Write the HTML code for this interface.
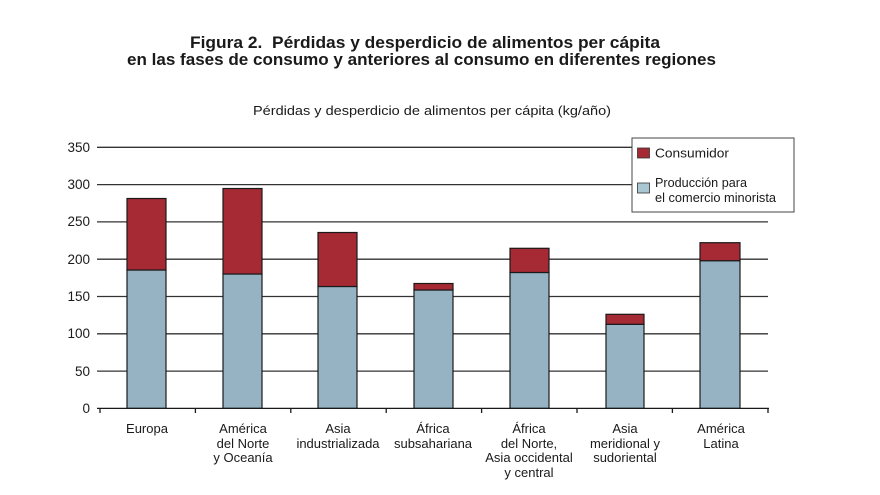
<!DOCTYPE html>
<html>
<head>
<meta charset="utf-8">
<style>
  html,body{margin:0;padding:0;background:#fff;}
  svg{display:block;}
  text{font-family:"Liberation Sans", Arial, sans-serif; fill:#1a1a1a;}
</style>
</head>
<body>
<svg width="880" height="495" viewBox="0 0 880 495" xmlns="http://www.w3.org/2000/svg">
  <rect width="880" height="495" fill="#fff"/>
  <!-- Titles -->
  <text x="425" y="48" font-size="16.5" font-weight="bold" text-anchor="middle" textLength="470" lengthAdjust="spacingAndGlyphs">Figura 2.&#160; Pérdidas y desperdicio de alimentos per cápita</text>
  <text x="421.5" y="65" font-size="16.5" font-weight="bold" text-anchor="middle" textLength="589" lengthAdjust="spacingAndGlyphs">en las fases de consumo y anteriores al consumo en diferentes regiones</text>
  <text x="432" y="115" font-size="13" text-anchor="middle" textLength="358" lengthAdjust="spacingAndGlyphs">Pérdidas y desperdicio de alimentos per cápita (kg/año)</text>

  <!-- Gridlines -->
  <g stroke="#333" stroke-width="1.3">
    <line x1="97" y1="147.3" x2="632" y2="147.3"/>
    <line x1="97" y1="184.6" x2="632" y2="184.6"/>
    <line x1="97" y1="221.9" x2="768" y2="221.9"/>
    <line x1="97" y1="259.2" x2="768" y2="259.2"/>
    <line x1="97" y1="296.5" x2="768" y2="296.5"/>
    <line x1="97" y1="333.8" x2="768" y2="333.8"/>
    <line x1="97" y1="371.1" x2="768" y2="371.1"/>
  </g>

  <!-- Y labels -->
  <g font-size="13.5" text-anchor="end">
    <text x="90" y="152">350</text>
    <text x="90" y="189">300</text>
    <text x="90" y="226">250</text>
    <text x="90" y="264">200</text>
    <text x="90" y="301">150</text>
    <text x="90" y="338">100</text>
    <text x="90" y="376">50</text>
    <text x="90" y="413">0</text>
  </g>

  <!-- Bars -->
  <g stroke="#1a1a1a" stroke-width="1.2">
    <rect x="127" y="270" width="39" height="138.4" fill="#95b3c2"/>
    <rect x="127" y="198.5" width="39" height="71.5" fill="#a52a33"/>
    <rect x="223" y="274" width="39" height="134.4" fill="#95b3c2"/>
    <rect x="223" y="188.5" width="39" height="85.5" fill="#a52a33"/>
    <rect x="318" y="286.5" width="39" height="121.9" fill="#95b3c2"/>
    <rect x="318" y="232.5" width="39" height="54" fill="#a52a33"/>
    <rect x="414" y="290" width="39" height="118.4" fill="#95b3c2"/>
    <rect x="414" y="283.5" width="39" height="6.5" fill="#a52a33"/>
    <rect x="510" y="272.5" width="39" height="135.9" fill="#95b3c2"/>
    <rect x="510" y="248.3" width="39" height="24.2" fill="#a52a33"/>
    <rect x="606" y="324.3" width="38" height="84.1" fill="#95b3c2"/>
    <rect x="606" y="314.3" width="38" height="10" fill="#a52a33"/>
    <rect x="700" y="260.7" width="40" height="147.7" fill="#95b3c2"/>
    <rect x="700" y="242.7" width="40" height="18" fill="#a52a33"/>
  </g>

  <!-- X axis -->
  <g stroke="#1a1a1a" stroke-width="1.3">
    <line x1="97" y1="408.4" x2="769" y2="408.4"/>
    <line x1="100" y1="408.4" x2="100" y2="413"/>
    <line x1="195.4" y1="408.4" x2="195.4" y2="413"/>
    <line x1="290.8" y1="408.4" x2="290.8" y2="413"/>
    <line x1="386.2" y1="408.4" x2="386.2" y2="413"/>
    <line x1="481.6" y1="408.4" x2="481.6" y2="413"/>
    <line x1="577" y1="408.4" x2="577" y2="413"/>
    <line x1="672.4" y1="408.4" x2="672.4" y2="413"/>
    <line x1="768" y1="408.4" x2="768" y2="413"/>
  </g>

  <!-- Category labels -->
  <g font-size="13" text-anchor="middle">
    <text x="147" y="433">Europa</text>
    <text x="243" y="433">América</text>
    <text x="243" y="448">del Norte</text>
    <text x="243" y="462">y Oceanía</text>
    <text x="338" y="433">Asia</text>
    <text x="338" y="448">industrializada</text>
    <text x="433" y="433">África</text>
    <text x="433" y="448">subsahariana</text>
    <text x="529" y="433">África</text>
    <text x="529" y="448">del Norte,</text>
    <text x="529" y="462">Asia occidental</text>
    <text x="529" y="477">y central</text>
    <text x="625" y="433">Asia</text>
    <text x="625" y="448">meridional y</text>
    <text x="625" y="462">sudoriental</text>
    <text x="721" y="433">América</text>
    <text x="721" y="448">Latina</text>
  </g>

  <!-- Legend -->
  <rect x="632" y="138" width="162" height="74" fill="#fff" stroke="#444" stroke-width="1"/>
  <rect x="637.5" y="148" width="12" height="10" fill="#a52a33" stroke="#333" stroke-width="0.8"/>
  <rect x="637.5" y="183" width="12" height="10" fill="#a9c7d3" stroke="#333" stroke-width="0.8"/>
  <g font-size="12.5">
    <text x="655" y="157.5" textLength="74" lengthAdjust="spacingAndGlyphs">Consumidor</text>
    <text x="655" y="187" textLength="92" lengthAdjust="spacingAndGlyphs">Producción para</text>
    <text x="655" y="202" textLength="121" lengthAdjust="spacingAndGlyphs">el comercio minorista</text>
  </g>
</svg>
</body>
</html>
